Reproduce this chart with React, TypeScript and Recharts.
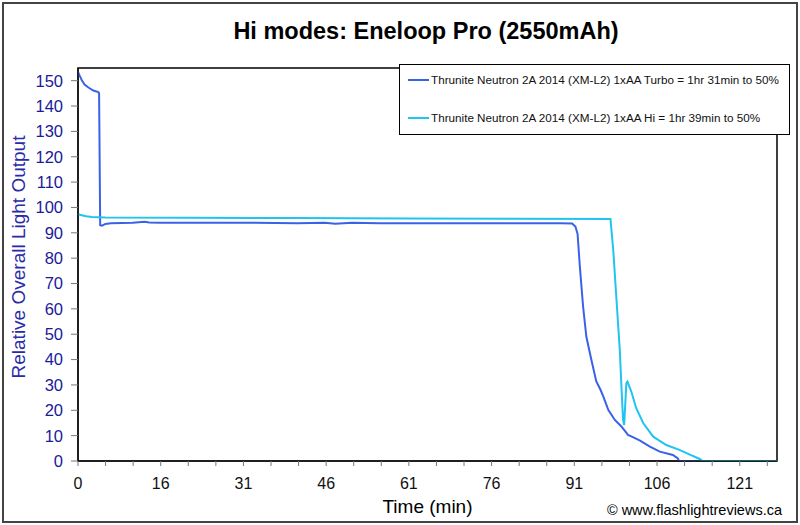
import React from "react";
import { LineChart, Line, XAxis, YAxis, ReferenceArea, Legend } from "recharts";

const seriesNames = [
  "Thrunite Neutron 2A 2014 (XM-L2) 1xAA Turbo = 1hr 31min to 50%",
  "Thrunite Neutron 2A 2014 (XM-L2) 1xAA Hi = 1hr 39min to 50%",
];
const seriesColors = ["#3a62e8", "#20c4f0"];

const turboTime = [0, 0.3, 0.7, 1.2, 1.9, 2.8, 3.7, 3.85, 4.05, 4.4, 5, 6, 10, 12.2, 13, 15, 20, 30, 40, 45, 47, 50, 55, 60, 70, 80, 88, 90.2, 90.8, 91.2, 91.6, 92.2, 92.8, 93.7, 94.6, 95.4, 95.9, 96.8, 98, 99.2, 99.8, 100.4, 101.3, 102.6, 104.4, 106.2, 108.6, 109.5, 109.7, 127.6];
const turboValue = [153.5, 152, 150.2, 148.5, 147.3, 146.1, 145.5, 145, 93, 92.8, 93.5, 93.8, 94, 94.4, 94.1, 94, 94, 94, 93.8, 94, 93.6, 94, 93.8, 93.8, 93.8, 93.8, 93.8, 93.7, 92.5, 89.5, 77, 61, 49, 40, 31.5, 28, 25.4, 20.2, 16.2, 13.6, 12, 10.3, 9.4, 8, 5.7, 3.7, 2.4, 1, 0, 0];

const hiTime = [0, 0.5, 1.5, 2.5, 5, 20, 40, 60, 80, 97.2, 97.7, 98.3, 98.9, 99.2, 99.5, 99.7, 100.1, 100.3, 101, 101.9, 103.2, 105, 107.4, 109.9, 111.7, 113.5, 114, 127.6];
const hiValue = [97.5, 97, 96.5, 96.2, 96, 95.9, 95.8, 95.6, 95.5, 95.4, 83.4, 63.6, 43.9, 29.4, 16.2, 14.2, 30.7, 31.3, 27.4, 20.8, 14.9, 9.6, 6.3, 4.3, 2.5, 0.8, 0, 0];

const xTickLabels = ["0", "16", "31", "46", "61", "76", "91", "106", "121"];
const yTicks = [0, 10, 20, 30, 40, 50, 60, 70, 80, 90, 100, 110, 120, 130, 140, 150];

const X_MAX = 127.6;
const Y_MAX = 155;
const LABEL_STEP = 15.1;
const xTicks = Array.from({ length: 26 }, (_, i) => (i * LABEL_STEP) / 3);

const turboData = turboTime.map((t, i) => ({ t, v: turboValue[i] }));
const hiData = hiTime.map((t, i) => ({ t, v: hiValue[i] }));

const FONT = "'Liberation Sans', Arial, sans-serif";

const LegendBox = () => (
  <div
    style={{
      width: 389,
      height: 69,
      background: "#fff",
      border: "1px solid #000",
      fontFamily: FONT,
      fontSize: 11.7,
      color: "#111",
      position: "relative",
    }}
  >
    {seriesNames.map((name, i) => (
      <div
        key={name}
        style={{
          position: "absolute",
          left: 8,
          top: i === 0 ? 8 : 46,
          display: "flex",
          alignItems: "center",
          whiteSpace: "nowrap",
        }}
      >
        <span style={{ display: "inline-block", width: 21, height: 2, background: seriesColors[i], marginRight: 2 }} />
        <span>{name}</span>
      </div>
    ))}
  </div>
);

export default function App() {
  return (
    <div style={{ position: "absolute", left: 0, top: 0, width: 800, height: 525, background: "#fff", fontFamily: FONT }}>
      <div
        style={{
          position: "absolute",
          left: 2,
          top: 2,
          width: 796,
          height: 521,
          boxSizing: "border-box",
          border: "2px solid #444",
        }}
      />
      <div
        style={{
          position: "absolute",
          left: 0,
          width: 852,
          top: 17,
          lineHeight: "28px",
          textAlign: "center",
          fontSize: 23.5,
          fontWeight: "bold",
          color: "#000",
        }}
      >
        Hi modes: Eneloop Pro (2550mAh)
      </div>
      <div
        style={{
          position: "absolute",
          left: 19,
          top: 257,
          width: 0,
          height: 0,
        }}
      >
        <div
          style={{
            position: "absolute",
            left: -150,
            top: -11,
            width: 300,
            height: 22,
            lineHeight: "22px",
            textAlign: "center",
            transform: "rotate(-90deg)",
            fontSize: 19,
            color: "#2a2aa8",
            whiteSpace: "nowrap",
          }}
        >
          Relative Overall Light Output
        </div>
      </div>
      <div style={{ position: "absolute", left: 0, top: 0 }}>
        <LineChart width={800} height={525} margin={{ top: 68, right: 23, bottom: 0, left: 0 }} style={{ fontFamily: FONT }}>
          <XAxis
            dataKey="t"
            type="number"
            domain={[0, X_MAX]}
            ticks={xTicks}
            interval={0}
            height={64}
            tickSize={5}
            tickMargin={12}
            tickLine={{ stroke: "#777" }}
            axisLine={{ stroke: "#000" }}
            tick={{ fill: "#111", fontSize: 16 }}
            tickFormatter={(v: number, i: number) => (i % 3 === 0 ? xTickLabels[i / 3] : "")}
            allowDataOverflow
            label={{ value: "Time (min)", position: "insideBottom", offset: 12, fill: "#000", fontSize: 19 }}
          />
          <YAxis
            type="number"
            domain={[0, Y_MAX]}
            ticks={yTicks}
            interval={0}
            width={78}
            tickSize={7}
            tickMargin={8}
            tickLine={{ stroke: "#777" }}
            axisLine={{ stroke: "#000" }}
            tick={{ fill: "#1a1a9a", fontSize: 16.5 }}
            allowDataOverflow
          />
          <ReferenceArea x1={0} x2={X_MAX} y1={0} y2={Y_MAX} fill="none" stroke="#000" strokeWidth={1.5} ifOverflow="visible" />
          <Line
            data={turboData}
            dataKey="v"
            name={seriesNames[0]}
            stroke={seriesColors[0]}
            strokeWidth={2}
            dot={false}
            type="linear"
            isAnimationActive={false}
          />
          <Line
            data={hiData}
            dataKey="v"
            name={seriesNames[1]}
            stroke={seriesColors[1]}
            strokeWidth={2}
            dot={false}
            type="linear"
            isAnimationActive={false}
          />
          <Legend
            layout="horizontal"
            verticalAlign="middle"
            align="center"
            content={() => <LegendBox />}
            wrapperStyle={{ position: "absolute", left: 399, top: 64, width: 391, height: 71 }}
          />
        </LineChart>
      </div>
      <div style={{ position: "absolute", right: 18, top: 502, fontSize: 14.5, color: "#000" }}>
        © www.flashlightreviews.ca
      </div>
    </div>
  );
}
